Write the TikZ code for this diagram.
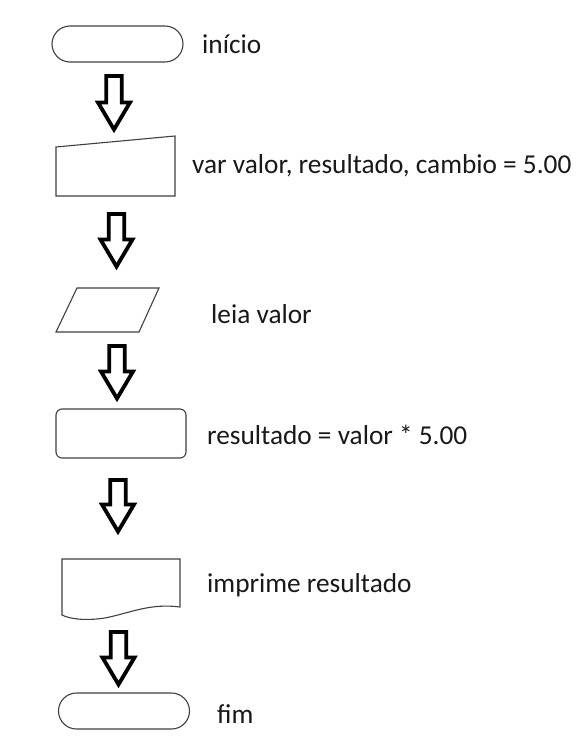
\documentclass[tikz,border=0pt]{standalone}
\usepackage{fontspec}
\setmainfont{Carlito}
\usetikzlibrary{calc}

\tikzset{
  forma/.style={draw=black!75, line width=1.1pt, fill=white},
  terminal/.style={forma, minimum width=131pt, minimum height=36pt, rounded corners=18pt, inner sep=0pt},
  rotulo/.style={anchor=base west, inner sep=0pt, font=\fontsize{27.3}{31}\selectfont, text=black!90},
  seta/.style={draw=black, line width=3.8pt, line join=miter, fill=white},
}
% seta de bloco: #1 = topo da haste, #2 = ponta
\newcommand{\setabloco}[2]{%
  \draw[seta] let \p1=(#1), \p2=(#2) in
    (\x1-7.8pt,\y1) -- (\x1+7.8pt,\y1) -- (\x1+7.8pt,\y2+27pt) -- (\x1+16pt,\y2+27pt)
    -- (\x2,\y2) -- (\x1-16pt,\y2+27pt) -- (\x1-7.8pt,\y2+27pt) -- cycle;}

\begin{document}
\begin{tikzpicture}[x=1pt,y=-1pt]
  \useasboundingbox[fill=white] (0,0) rectangle (575,746);

  % formas
  \node[terminal] (inicio) at (117.5,44) {};
  \draw[forma] (56,147) -- (175,136) -- (175,196) -- (56,196) -- cycle;
  \draw[forma] (77,288) -- (159,288) -- (139,332) -- (56,332) -- cycle;
  \node[forma, minimum width=130pt, minimum height=49pt, rounded corners=6pt, inner sep=0pt] (processo) at (121,433.5) {};
  \draw[forma] (62,559) -- (180,559) -- (180,607)
    .. controls (150,603) and (130,613) .. (105,618)
    .. controls (85,621) and (70,619) .. (62,615) -- cycle;
  \node[terminal] (fim) at (124,711) {};

  % textos
  \node[rotulo] (tinicio) at (202,54) {início};
  \node[rotulo] (tvar) at (192,174) {var valor, resultado, cambio = 5.00};
  \node[rotulo] (tleia) at (211,323) {leia valor};
  \node[rotulo] (tcalc) at (207,444) {resultado = valor * 5.00};
  \node[rotulo] (timp) at (207,592) {imprime resultado};
  \node[rotulo] (tfim) at (217,723) {fim};

  % setas
  \coordinate (a1) at (114,76);   \coordinate (b1) at (114,129.5);
  \coordinate (a2) at (116.5,214); \coordinate (b2) at (116.5,266.5);
  \coordinate (a3) at (117,346);  \coordinate (b3) at (117,398.5);
  \coordinate (a4) at (118,480);  \coordinate (b4) at (118,531.5);
  \coordinate (a5) at (118.5,632); \coordinate (b5) at (118.5,684.5);
  \foreach \i in {1,...,5} {\setabloco{a\i}{b\i}}
\end{tikzpicture}
\end{document}
